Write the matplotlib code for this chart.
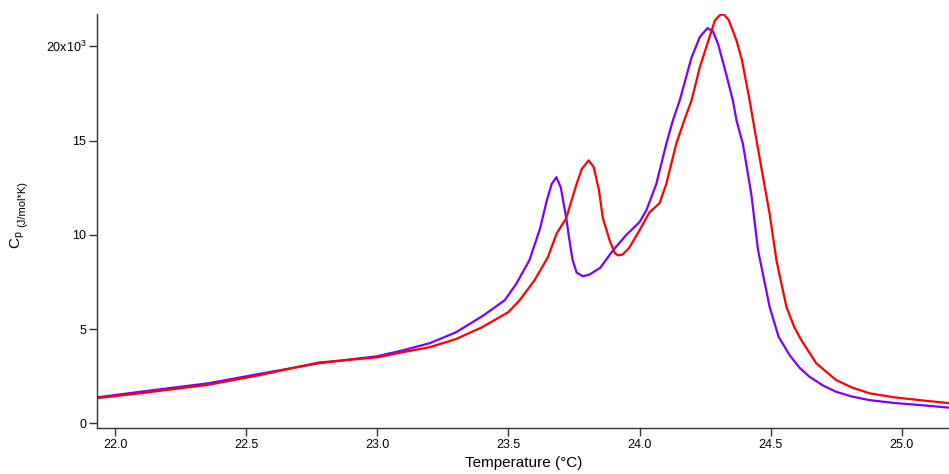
import numpy as np
import matplotlib
matplotlib.use('Agg')
import matplotlib.pyplot as plt

plt.rcParams['font.family'] = ['Liberation Sans', 'DejaVu Sans']

# heat capacity scans, Cp in units of 10^3 J/mol*K
temp_purple = [21.935, 22.1, 22.354, 22.55, 22.774, 23.0, 23.1, 23.2, 23.3, 23.4,
               23.486, 23.53, 23.58, 23.62, 23.646, 23.665, 23.683, 23.70, 23.72,
               23.735, 23.745, 23.76, 23.784, 23.81, 23.85, 23.9, 23.95, 24.0,
               24.026, 24.064, 24.102, 24.127, 24.153, 24.198, 24.23, 24.259,
               24.28, 24.30, 24.33, 24.356, 24.37, 24.394, 24.426, 24.452, 24.496,
               24.53, 24.572, 24.61, 24.648, 24.70, 24.75, 24.81, 24.877, 24.97,
               25.068, 25.18]
cp_purple = [1.38, 1.68, 2.12, 2.62, 3.18, 3.56, 3.88, 4.25, 4.83, 5.68,
             6.53, 7.4, 8.65, 10.3, 11.8, 12.7, 13.06, 12.5, 10.93,
             9.5, 8.65, 8.0, 7.8, 7.9, 8.25, 9.2, 10.0, 10.68,
             11.3, 12.7, 14.83, 16.06, 17.12, 19.4, 20.5, 20.97,
             20.8, 20.1, 18.55, 17.12, 16.06, 14.83, 12.18, 9.18, 6.18,
             4.6, 3.62, 2.95, 2.47, 2.0, 1.67, 1.42, 1.23, 1.08,
             0.97, 0.83]

temp_red = [21.935, 22.1, 22.354, 22.55, 22.774, 23.0, 23.1, 23.2, 23.3, 23.4,
            23.5, 23.543, 23.6, 23.65, 23.684, 23.72, 23.76, 23.78, 23.806,
            23.825, 23.845, 23.86, 23.886, 23.905, 23.917, 23.935, 23.96, 24.0,
            24.038, 24.076, 24.102, 24.14, 24.17, 24.198, 24.23, 24.26, 24.287,
            24.305, 24.321, 24.34, 24.37, 24.39, 24.42, 24.44, 24.464, 24.496,
            24.522, 24.56, 24.59, 24.617, 24.674, 24.75, 24.81, 24.877, 24.97,
            25.068, 25.18]
cp_red = [1.34, 1.6, 2.04, 2.55, 3.22, 3.5, 3.78, 4.04, 4.47, 5.1,
          5.9, 6.53, 7.6, 8.8, 10.07, 10.87, 12.7, 13.5, 13.95,
          13.6, 12.4, 10.9, 9.7, 9.05, 8.91, 8.95, 9.3, 10.24,
          11.2, 11.67, 12.7, 14.83, 16.06, 17.12, 18.9, 20.2, 21.36,
          21.65, 21.7, 21.4, 20.3, 19.3, 17.12, 15.5, 13.6, 11.12,
          8.65, 6.18, 5.1, 4.41, 3.18, 2.29, 1.9, 1.59, 1.38,
          1.23, 1.07]

xticks = [22.0, 22.5, 23.0, 23.5, 24.0, 24.5, 25.0]
yticks = [0, 5, 10, 15, 20]
ytick_labels = ['0', '5', '10', '15', r'20x10$^\mathregular{3}$']

fig = plt.figure(figsize=(9.49, 4.74), dpi=100)
ax = fig.add_axes([0.1027, 0.0977, 0.8973, 0.8728])

ax.plot(temp_purple, cp_purple, color='#7a00ff', lw=1.6)
ax.plot(temp_red, cp_red, color='#ff0000', lw=1.6)

ax.set_xlim(21.933, 25.18)
ax.set_ylim(-0.233, 21.72)

ax.set_xticks(xticks)
ax.set_xticklabels(['{:.1f}'.format(t) for t in xticks], fontsize=9)
ax.set_yticks(yticks)
ax.set_yticklabels(ytick_labels, fontsize=9)
ax.tick_params(direction='out', length=6, width=1, color='#333333', pad=2)

for s in ['top', 'right']:
    ax.spines[s].set_visible(False)
for s in ['left', 'bottom']:
    ax.spines[s].set_color('#333333')
    ax.spines[s].set_linewidth(1)

ax.set_xlabel('Temperature (°C)', fontsize=11, labelpad=4)

# y label: C_p with small units
fig.text(0.019, 1 - 240 / 474, r'C$_\mathregular{p}$', rotation=90,
         ha='center', va='center', fontsize=11)
fig.text(0.023, 1 - 204 / 474, '(J/mol*K)', rotation=90,
         ha='center', va='center', fontsize=8)

fig.savefig('out.png', dpi=100)
